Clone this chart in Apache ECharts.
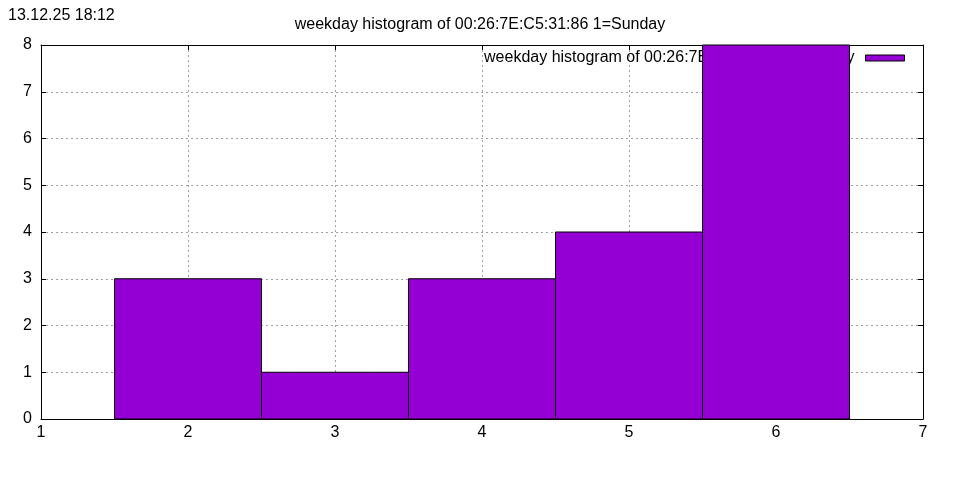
<!DOCTYPE html>
<html><head><meta charset="utf-8">
<script src="https://cdn.jsdelivr.net/npm/echarts@6/dist/echarts.min.js"></script>
<style>html,body{margin:0;padding:0;background:#fff}#c{width:960px;height:480px}</style>
</head><body><div id="c"></div>
<script>
const days = [2, 3, 4, 5, 6];
const counts = [3, 1, 3, 4, 8];
const xTicks = [1, 2, 3, 4, 5, 6, 7];
const yTicks = [0, 1, 2, 3, 4, 5, 6, 7, 8];
const titleText = 'weekday histogram of 00:26:7E:C5:31:86 1=Sunday';
const stampText = '13.12.25 18:12';
const seriesName = 'weekday histogram of 00:26:7E:C5:31:86 1=Sunday';

const font = 'Liberation Sans, Arial, sans-serif';
const chart = echarts.init(document.getElementById('c'), null, {renderer: 'canvas'});
const data = days.map((d, i) => [d, counts[i]]);
const grid = {left: 41, top: 45, width: 882, height: 374};
const splitDash = {show: true, showMinLine: false, showMaxLine: false, lineStyle: {color: '#a0a0a0', type: [2, 3], width: 1}};
chart.setOption({
  animation: false,
  backgroundColor: '#fff',
  textStyle: {fontFamily: font},
  title: [
    {text: titleText, left: 'center', top: 12, textStyle: {fontSize: 16, fontWeight: 'normal', color: '#000', fontFamily: font}},
    {text: stampText, left: 3, top: 3, textStyle: {fontSize: 16, fontWeight: 'normal', color: '#000', fontFamily: font}}
  ],
  legend: {
    z: 1,
    right: 50, top: 45,
    align: 'right',
    itemWidth: 39, itemHeight: 6, itemGap: 0,
    icon: 'rect',
    textStyle: {fontSize: 16, color: '#000', fontFamily: font, padding: [0, 6, 0, 0]},
    data: [{name: seriesName, itemStyle: {color: '#9400D3', borderColor: '#000', borderWidth: 1}}]
  },
  grid: grid,
  xAxis: [
    {type: 'value', min: xTicks[0], max: xTicks[xTicks.length - 1], interval: 1,
     axisLine: {show: true, onZero: false, lineStyle: {color: '#000', width: 1}},
     axisTick: {show: true, inside: true, length: 5, lineStyle: {color: '#000'}},
     axisLabel: {fontSize: 16, color: '#000', margin: 6, fontFamily: font},
     splitLine: splitDash},
    {type: 'value', position: 'top', z: 3, min: xTicks[0], max: xTicks[xTicks.length - 1], interval: 1,
     axisLine: {show: true, onZero: false, lineStyle: {color: '#000', width: 1}},
     axisTick: {show: true, inside: true, length: 5, lineStyle: {color: '#000'}},
     axisLabel: {show: false}, splitLine: {show: false}}
  ],
  yAxis: [
    {type: 'value', min: yTicks[0], max: yTicks[yTicks.length - 1], interval: 1,
     axisLine: {show: true, onZero: false, lineStyle: {color: '#000', width: 1}},
     axisTick: {show: true, inside: true, length: 5, lineStyle: {color: '#000'}},
     axisLabel: {fontSize: 16, color: '#000', margin: 9, fontFamily: font},
     splitLine: splitDash},
    {type: 'value', position: 'right', z: 3, min: yTicks[0], max: yTicks[yTicks.length - 1], interval: 1,
     axisLine: {show: true, onZero: false, lineStyle: {color: '#000', width: 1}},
     axisTick: {show: true, inside: true, length: 5, lineStyle: {color: '#000'}},
     axisLabel: {show: false}, splitLine: {show: false}}
  ],
  series: [{
    name: seriesName,
    type: 'custom',
    z: 5,
    xAxisIndex: 0, yAxisIndex: 0,
    itemStyle: {color: '#9400D3'},
    data: data,
    renderItem: function (params, api) {
      const x = api.value(0), y = api.value(1);
      const p0 = api.coord([x - 0.5, y]);
      const p1 = api.coord([x + 0.5, 0]);
      return {
        type: 'rect',
        shape: {x: p0[0], y: p0[1], width: p1[0] - p0[0], height: p1[1] - p0[1]},
        style: {fill: '#9400D3', stroke: '#000', lineWidth: 1}
      };
    }
  }]
});
</script></body></html>
